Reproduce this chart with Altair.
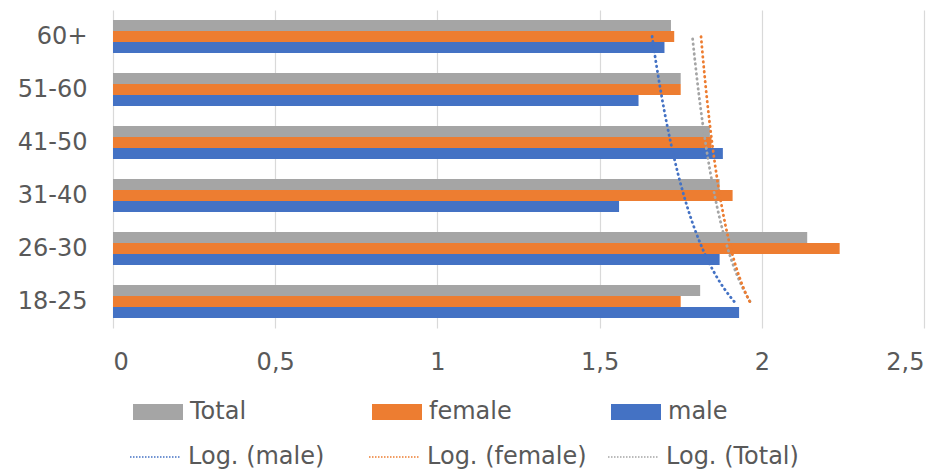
import altair as alt
import pandas as pd

# Age groups from youngest to oldest (index 1..6 feeds the log trend fit)
age_groups = ["18-25", "26-30", "31-40", "41-50", "51-60", "60+"]
series_names = ["Total", "female", "male"]
trend_names = ["Log. (male)", "Log. (female)", "Log. (Total)"]

total_values = [1.81, 2.14, 1.87, 1.84, 1.75, 1.72]
female_values = [1.75, 2.24, 1.91, 1.845, 1.75, 1.73]
male_values = [1.93, 1.87, 1.56, 1.88, 1.62, 1.70]

x_ticks = [0, 0.5, 1, 1.5, 2, 2.5]

rows = []
for name, vals in zip(series_names, [total_values, female_values, male_values]):
    for i, (grp, val) in enumerate(zip(age_groups, vals), start=1):
        rows.append({"age": grp, "idx": i, "series": name, "value": val})
df = pd.DataFrame(rows)

GRAY, ORANGE, BLUE = "#A5A5A5", "#ED7D31", "#4472C4"
TEXT = "#595959"
FONT = "DejaVu Sans"

x_axis = alt.Axis(
    values=x_ticks,
    labelExpr="replace(toString(datum.value), '.', ',')",
    grid=True,
    gridColor="#D9D9D9",
    gridWidth=1.2,
    domain=False,
    ticks=False,
    labelFont=FONT,
    labelFontSize=24,
    labelColor=TEXT,
    labelPadding=22,
    title=None,
)
x_scale = alt.Scale(domain=[0, 2.5], nice=False)

base = alt.Chart(df)

bars = base.mark_bar().encode(
    x=alt.X("value:Q", scale=x_scale, axis=x_axis),
    y=alt.Y(
        "age:N",
        sort=age_groups[::-1],
        scale=alt.Scale(paddingInner=0.375, paddingOuter=0.1875),
        axis=alt.Axis(
            title=None,
            domain=False,
            ticks=False,
            grid=False,
            labelFont=FONT,
            labelFontSize=24,
            labelColor=TEXT,
            labelPadding=26,
        ),
    ),
    yOffset=alt.YOffset("series:N", sort=series_names),
    color=alt.Color(
        "series:N",
        scale=alt.Scale(domain=series_names, range=[GRAY, ORANGE, BLUE]),
        legend=alt.Legend(
            title=None,
            orient="none",
            legendX=16,
            legendY=390,
            direction="horizontal",
            # wide rectangular swatch
            symbolType="M-1,-1H5.25V1H-1Z",
            symbolSize=256,
            symbolStrokeWidth=0,
            labelOffset=37,
            columnPadding=95,
            gridAlign="all",
            labelFont=FONT,
            labelFontSize=24,
            labelColor=TEXT,
        ),
    ),
)

# Logarithmic trend lines fitted per series over the age-group index
trend = (
    base.transform_regression("idx", "value", method="log", groupby=["series"])
    .transform_calculate(trend="'Log. (' + datum.series + ')'")
    .mark_line(strokeDash=[0.5, 4.5], strokeCap="round", strokeWidth=2.8)
    .encode(
        x=alt.X("value:Q", scale=x_scale, axis=x_axis),
        y=alt.Y(
            "idx:Q",
            scale=alt.Scale(domain=[0.5, 6.5], nice=False, zero=False),
            axis=None,
        ),
        order=alt.Order("idx:Q"),
        stroke=alt.Stroke(
            "trend:N",
            scale=alt.Scale(domain=trend_names, range=[BLUE, ORANGE, GRAY]),
            legend=alt.Legend(
                title=None,
                orient="none",
                legendX=16,
                legendY=421,
                direction="horizontal",
                symbolType="stroke",
                symbolSize=2500,
                symbolStrokeWidth=1.5,
                symbolDash=[1.5, 1.5],
                labelOffset=7,
                columnPadding=18,
                gridAlign="all",
                labelFont=FONT,
                labelFontSize=24,
                labelColor=TEXT,
            ),
        ),
    )
)

chart = (
    alt.layer(bars, trend)
    .resolve_scale(y="independent")
    .properties(
        width=811,
        height=318,
        padding={"left": 113, "top": 10, "right": 21, "bottom": 143},
        autosize=alt.AutoSizeParams(type="none"),
        background="white",
    )
    .configure_view(stroke=None)
)

chart.save("out.html", embed_options={"renderer": "svg", "actions": False})
